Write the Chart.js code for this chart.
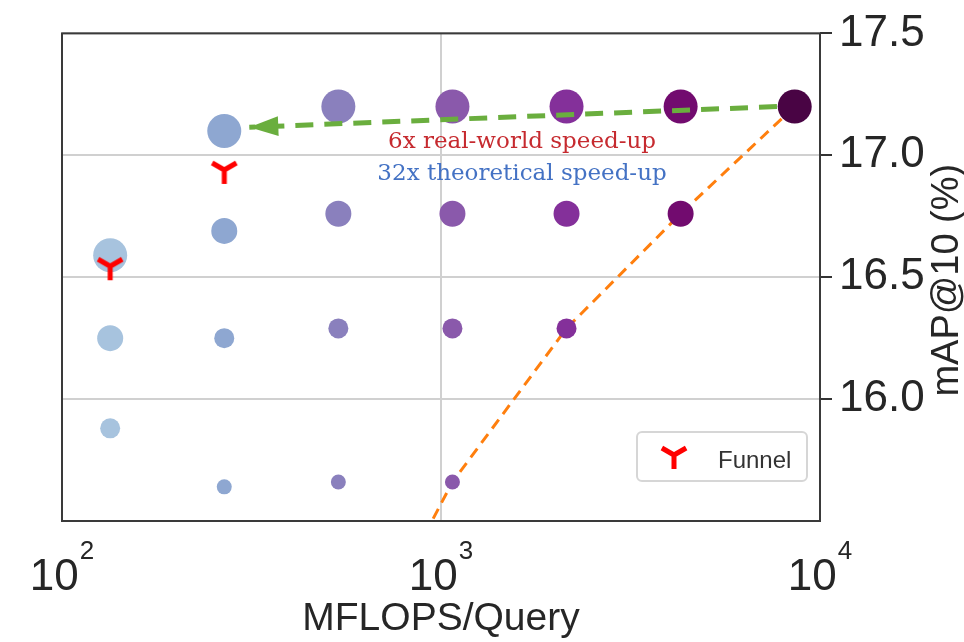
<!DOCTYPE html>
<html>
<head>
<meta charset="utf-8">
<title>MFLOPS/Query vs mAP@10</title>
<script src="https://cdn.jsdelivr.net/npm/chart.js@4.4.1/dist/chart.umd.min.js"></script>
<style>
  html, body { margin: 0; padding: 0; background: #fff; }
  #wrap { width: 964px; height: 642px; }
</style>
</head>
<body>
<div id="wrap"><canvas id="chart" width="964" height="642"></canvas></div>
<script>
// MFLOPS per query, one column per model size
const flops = [134, 268, 536, 1072, 2144, 4288, 8576];

// mAP@10 (%) for each row of points, null = no point in that column
const rowLarge  = [16.59, 17.10, 17.20, 17.20, 17.20, 17.20, 17.20];
const rowMedium = [16.25, 16.69, 16.76, 16.76, 16.76, 16.76, null];
const rowSmall  = [15.88, 16.25, 16.29, 16.29, 16.29, null, null];
const rowTiny   = [null, 15.64, 15.66, 15.66, null, null, null];

// orange dashed baseline curve
const baseX = [8576, 4288, 2144, 1072, 536];
const baseY = [17.20, 16.76, 16.29, 15.66, 14.77];

// Funnel markers
const funnelX = [134, 268];
const funnelY = [16.545, 16.94];

// green speed-up arrow (start -> tip)
const arrowX = [7700, 312];
const arrowY = [17.20, 17.115];

const notes = ['6x real-world speed-up', '32x theoretical speed-up'];
const noteX = 1636;
const noteY = [17.03, 16.898];

const xTicks = [100, 1000, 10000];
const yTicks = [16.0, 16.5, 17.0, 17.5];

// styling
const colColors = ['#a7c3de', '#8ea7d1', '#8a80bd', '#8a59ab', '#84309a', '#720b6f', '#490444'];
const rowRadius = [17, 13, 10, 7.5];
const noteColors = ['#c62a2f', '#4472c4'];
const SANS = '"Liberation Sans", Arial, sans-serif';
const SERIF = '"DejaVu Serif", serif';

// matplotlib-like tri_down marker
function triDown(size, lw) {
  const c = document.createElement('canvas');
  c.width = c.height = size;
  const g = c.getContext('2d');
  const cx = size / 2, cy = size / 2, r = size / 2 - lw;
  g.strokeStyle = '#ff0000';
  g.lineWidth = lw;
  g.beginPath();
  g.moveTo(cx, cy + r); g.lineTo(cx, cy);
  g.moveTo(cx - r * 0.866, cy - r * 0.5); g.lineTo(cx, cy);
  g.lineTo(cx + r * 0.866, cy - r * 0.5);
  g.stroke();
  return c;
}
const funnelMark = triDown(38, 5);

const rows = [rowLarge, rowMedium, rowSmall, rowTiny];
const pointSets = rows.map((row, r) => {
  const idx = flops.map((_, i) => i).filter(i => row[i] !== null);
  return {
    type: 'scatter',
    data: idx.map(i => ({ x: flops[i], y: row[i] })),
    pointBackgroundColor: idx.map(i => colColors[i]),
    pointBorderWidth: 0,
    pointRadius: rowRadius[r],
    pointHoverRadius: rowRadius[r],
    order: 3,
  };
});

const overlay = {
  id: 'overlay',
  afterDatasetsDraw(chart) {
    const { ctx, scales: { x, y } } = chart;
    ctx.save();
    // arrow head
    const x0 = x.getPixelForValue(arrowX[0]), y0 = y.getPixelForValue(arrowY[0]);
    const x1 = x.getPixelForValue(arrowX[1]), y1 = y.getPixelForValue(arrowY[1]);
    const a = Math.atan2(y1 - y0, x1 - x0);
    ctx.translate(x1, y1);
    ctx.rotate(a);
    ctx.fillStyle = '#6aae3e';
    ctx.beginPath();
    ctx.moveTo(0, 0);
    ctx.lineTo(-29, -10);
    ctx.lineTo(-29, 10);
    ctx.closePath();
    ctx.fill();
    ctx.restore();

    // annotations
    ctx.save();
    ctx.font = '23px ' + SERIF;
    ctx.textAlign = 'center';
    ctx.textBaseline = 'alphabetic';
    notes.forEach((t, i) => {
      ctx.fillStyle = noteColors[i];
      ctx.fillText(t, x.getPixelForValue(noteX), y.getPixelForValue(noteY[i]));
    });
    ctx.restore();
  },
  afterDraw(chart) {
    const { ctx, chartArea: ca, scales: { x } } = chart;
    ctx.save();
    // frame
    ctx.strokeStyle = '#3a3a3a';
    ctx.lineWidth = 2;
    ctx.strokeRect(ca.left, ca.top, ca.right - ca.left, ca.bottom - ca.top);

    // x tick labels 10^n
    ctx.fillStyle = '#262626';
    ctx.textBaseline = 'alphabetic';
    ctx.textAlign = 'left';
    xTicks.forEach(v => {
      const px = x.getPixelForValue(v);
      const exp = String(Math.round(Math.log10(v)));
      ctx.font = '44px ' + SANS;
      const wb = ctx.measureText('10').width;
      ctx.font = '26px ' + SANS;
      const we = ctx.measureText(exp).width;
      const start = px - (wb + 1 + we) / 2;
      ctx.font = '44px ' + SANS;
      ctx.fillText('10', start, 590);
      ctx.font = '26px ' + SANS;
      ctx.fillText(exp, start + wb + 1, 559);
    });

    // axis titles
    ctx.font = '39px ' + SANS;
    ctx.textAlign = 'center';
    ctx.fillText('MFLOPS/Query', (ca.left + ca.right) / 2, 630);
    ctx.save();
    ctx.translate(958, (ca.top + ca.bottom) / 2 + 3);
    ctx.rotate(-Math.PI / 2);
    ctx.font = '38px ' + SANS;
    ctx.fillText('mAP@10 (%)', 0, 0);
    ctx.restore();

    // legend
    const bx = ca.right - 183, by = ca.bottom - 89, bw = 170, bh = 49;
    ctx.fillStyle = '#ffffff';
    ctx.strokeStyle = '#d6d6d6';
    ctx.lineWidth = 2;
    ctx.beginPath();
    ctx.roundRect(bx, by, bw, bh, 5);
    ctx.fill();
    ctx.stroke();
    ctx.drawImage(funnelMark, bx + 37 - 19, by + 23 - 19);
    ctx.fillStyle = '#333333';
    ctx.font = '24px ' + SANS;
    ctx.textAlign = 'left';
    ctx.textBaseline = 'middle';
    ctx.fillText('Funnel', bx + 81, by + 29);
    ctx.restore();
  },
};

new Chart(document.getElementById('chart'), {
  type: 'scatter',
  data: {
    datasets: [
      {
        label: 'Funnel',
        type: 'scatter',
        data: funnelX.map((v, i) => ({ x: v, y: funnelY[i] })),
        pointStyle: funnelMark,
        order: 0,
      },
      {
        label: 'speed-up',
        type: 'line',
        data: arrowX.map((v, i) => ({ x: v, y: arrowY[i] })),
        borderColor: '#6aae3e',
        borderWidth: 5,
        borderDash: [18, 11],
        pointRadius: 0,
        fill: false,
        order: 1,
      },
      ...pointSets,
      {
        label: 'baseline',
        type: 'line',
        data: baseX.map((v, i) => ({ x: v, y: baseY[i] })),
        borderColor: '#ff7f0e',
        borderWidth: 3,
        borderDash: [11, 7],
        pointRadius: 0,
        fill: false,
        order: 10,
      },
    ],
  },
  options: {
    responsive: false,
    animation: false,
    events: [],
    layout: { padding: { left: 62, top: 30, right: 0, bottom: 0 } },
    plugins: { legend: { display: false }, tooltip: { enabled: false } },
    scales: {
      x: {
        type: 'logarithmic',
        min: 100,
        max: 10000,
        afterBuildTicks: s => { s.ticks = xTicks.map(v => ({ value: v })); },
        afterFit: s => { s.height = 121; },
        grid: { color: '#d0d0d0', lineWidth: 2, drawTicks: false },
        border: { display: false },
        ticks: { display: false },
      },
      y: {
        position: 'right',
        min: 15.5,
        max: 17.5,
        afterBuildTicks: s => { s.ticks = yTicks.map(v => ({ value: v })); },
        afterFit: s => { s.width = 144; },
        grid: { color: '#d0d0d0', lineWidth: 2, tickLength: 12, tickColor: '#333333', tickWidth: 2 },
        border: { display: false },
        ticks: {
          callback: v => Number(v).toFixed(1),
          font: { family: 'Liberation Sans', size: 44 },
          color: '#262626',
          padding: 7,
        },
      },
    },
  },
  plugins: [overlay],
});
</script>
</body>
</html>
